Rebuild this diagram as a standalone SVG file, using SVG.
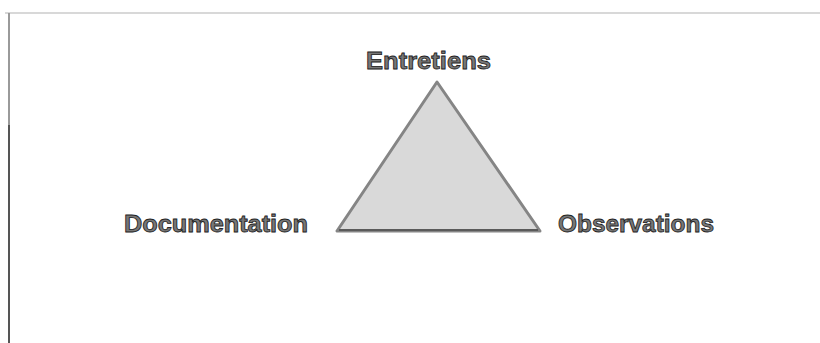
<svg xmlns="http://www.w3.org/2000/svg" width="820" height="343" viewBox="0 0 820 343">
<style>
.lbl{font-family:"Liberation Sans",Arial,sans-serif;font-size:23px;font-weight:bold;fill:#777777;stroke:#222222;stroke-width:0.8px}
</style>
<rect width="820" height="343" fill="#ffffff"/>
<g id="frame">
<line x1="5" y1="13" x2="820" y2="13" stroke="#d8d8d8" stroke-width="2"/>
<line x1="9" y1="13" x2="9" y2="125" stroke="#9a9a9a" stroke-width="2"/>
<line x1="9" y1="125" x2="9" y2="343" stroke="#555555" stroke-width="2"/>
</g>
<g id="triangle">
<polygon points="437,82 337,231 540,231" fill="#d9d9d9" stroke="#858585" stroke-width="3" stroke-linejoin="round"/>
<line x1="339" y1="230" x2="538" y2="230" stroke="#5a5a5a" stroke-width="2"/>
</g>
<g id="entretiens"><text class="lbl" x="366" y="69" textLength="125" lengthAdjust="spacingAndGlyphs">Entretiens</text></g>
<g id="documentation"><text class="lbl" x="124" y="232" textLength="184" lengthAdjust="spacingAndGlyphs">Documentation</text></g>
<g id="observations"><text class="lbl" x="558" y="232" textLength="156" lengthAdjust="spacingAndGlyphs">Observations</text></g>
</svg>
